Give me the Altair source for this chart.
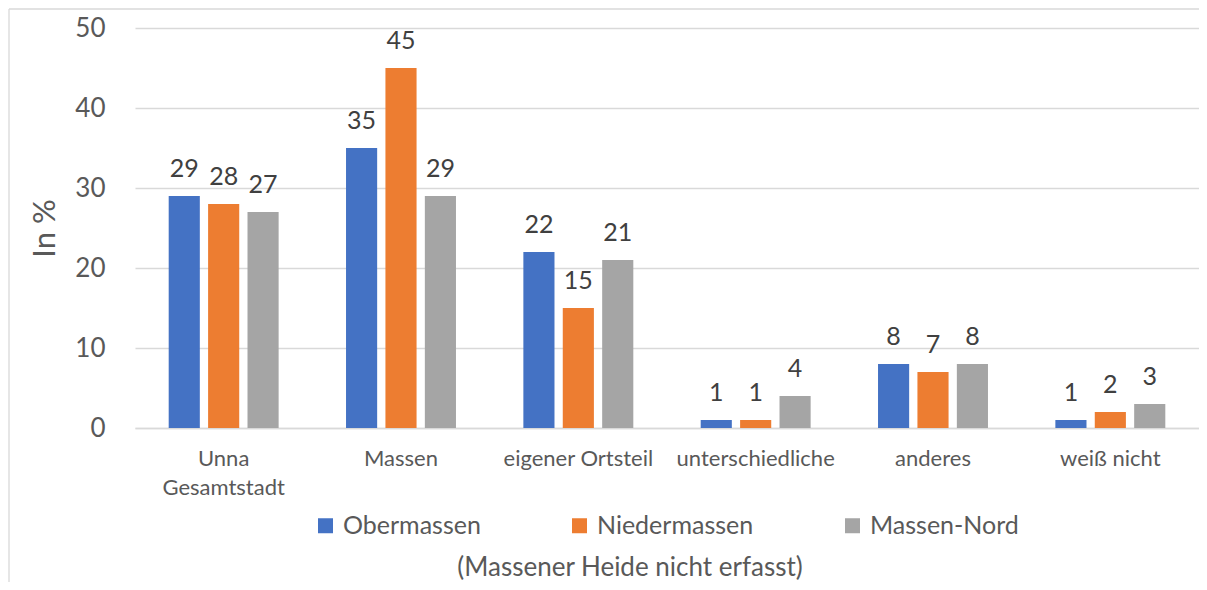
import altair as alt
import pandas as pd

categories = ["Unna Gesamtstadt", "Massen", "eigener Ortsteil", "unterschiedliche", "anderes", "weiß nicht"]
series = ["Obermassen", "Niedermassen", "Massen-Nord"]
obermassen = [29, 35, 22, 1, 8, 1]
niedermassen = [28, 45, 15, 1, 7, 2]
massen_nord = [27, 29, 21, 4, 8, 3]
colors = ["#4472C4", "#ED7D31", "#A5A5A5"]
y_ticks = [0, 10, 20, 30, 40, 50]

rows = []
for s, vals in zip(series, [obermassen, niedermassen, massen_nord]):
    for c, v in zip(categories, vals):
        rows.append({"Kategorie": c, "Gebiet": s, "Wert": v})
df = pd.DataFrame(rows)

FONT = "Lato"
GRID = "#d9d9d9"
TXT = "#595959"
W, H = 1064, 400

x_enc = alt.X(
    "Kategorie:N", sort=categories,
    scale=alt.Scale(paddingInner=0.38, paddingOuter=0.19),
    axis=alt.Axis(
        title="(Massener Heide nicht erfasst)", titleX=494.5, titleY=147,
        titleAlign="center", titleBaseline="alphabetic", titleFont=FONT,
        titleFontSize=26, titleFontWeight="normal", titleColor=TXT,
        labelFont=FONT, labelFontSize=22, labelColor=TXT, labelPadding=20,
        labelAngle=0, labelOverlap=False, labelLineHeight=29, labelLimit=300,
        ticks=False, domain=True, domainColor=GRID, domainWidth=1.3,
        labelExpr="datum.value == 'Unna Gesamtstadt' ? ['Unna', 'Gesamtstadt'] : datum.label",
    ),
)
y_enc = alt.Y(
    "Wert:Q", scale=alt.Scale(domain=[0, 50], nice=False),
    axis=alt.Axis(
        values=y_ticks, title="In %", titleX=-90, titleY=200, titleAngle=270,
        titleAlign="center", titleBaseline="middle", titleFont=FONT,
        titleFontSize=31, titleFontWeight="normal", titleColor=TXT,
        labelFont=FONT, labelFontSize=26, labelColor=TXT, labelPadding=30,
        ticks=False, domain=False, grid=True, gridColor=GRID, gridWidth=1.3,
    ),
)
xoff = alt.XOffset("Gebiet:N", sort=series, scale=alt.Scale(paddingInner=0.21, paddingOuter=0))

base = alt.Chart(df)
bars = base.mark_bar().encode(
    x=x_enc, y=y_enc, xOffset=xoff,
    color=alt.Color(
        "Gebiet:N", sort=series, scale=alt.Scale(domain=series, range=colors),
        legend=alt.Legend(
            title=None, orient="none", legendX=178, legendY=485, direction="horizontal",
            symbolType="square", symbolSize=225, symbolStrokeWidth=0, symbolOpacity=1,
            labelFont=FONT, labelFontSize=25, labelColor=TXT, labelOffset=5,
            columnPadding=86, padding=0, labelLimit=400,
        ),
    ),
)
labels = base.mark_text(font=FONT, fontSize=25, color="#404040", baseline="alphabetic", dy=-19).encode(
    x=x_enc, y=y_enc, xOffset=xoff, text="Wert:Q"
)

one = pd.DataFrame({"a": [0]})
frame_left = alt.Chart(one).mark_rule(color=GRID, strokeWidth=1.3).encode(
    x=alt.value(-126), y=alt.value(-19), y2=alt.value(575)
)
frame_top = alt.Chart(one).mark_rule(color=GRID, strokeWidth=1.3).encode(
    x=alt.value(-126), x2=alt.value(1075), y=alt.value(-19)
)

chart = alt.layer(frame_left, frame_top, bars, labels).properties(
    width=W, height=H,
    autosize=alt.AutoSizeParams(type="none"),
    padding={"left": 127, "top": 20, "right": 0, "bottom": 154},
    background="white",
).configure_view(stroke=None)

chart.save("out.html", embed_options={"renderer": "svg", "actions": False})
